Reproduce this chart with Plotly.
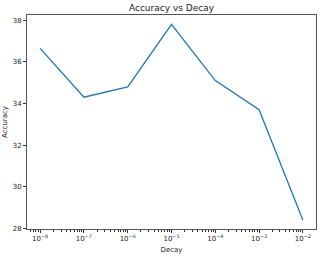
import plotly.graph_objects as go

decay = [1e-8, 1e-7, 1e-6, 1e-5, 1e-4, 1e-3, 1e-2]
accuracy = [36.65, 34.3, 34.8, 37.8, 35.1, 33.7, 28.4]
x_tick_vals = [1e-8, 1e-7, 1e-6, 1e-5, 1e-4, 1e-3, 1e-2]
x_tick_text = ["10<sup>−8</sup>", "10<sup>−7</sup>", "10<sup>−6</sup>", "10<sup>−5</sup>",
               "10<sup>−4</sup>", "10<sup>−3</sup>", "10<sup>−2</sup>"]
y_tick_vals = [28, 30, 32, 34, 36, 38]

minor_vals = [m * 10.0 ** e for e in range(-9, -1) for m in range(2, 10)]

fig = go.Figure()
fig.add_trace(go.Scatter(x=decay, y=accuracy, mode="lines",
                         line=dict(color="#1f77b4", width=1.3)))

font = dict(family="DejaVu Sans", size=7, color="#222")
fig.update_layout(
    width=320, height=257,
    margin=dict(l=27, r=4, t=15, b=28),
    paper_bgcolor="white", plot_bgcolor="white",
    showlegend=False,
    font=font,
    title=dict(text="Accuracy vs Decay", x=(27 + 316) / 2 / 320, xanchor="center",
               y=1 - 8 / 257, yanchor="middle", font=dict(family="DejaVu Sans", size=9, color="#222")),
)
fig.update_xaxes(
    type="log", range=[-8.3, -1.7],
    tickvals=x_tick_vals, ticktext=x_tick_text,
    ticks="outside", ticklen=3, tickwidth=0.8, tickcolor="#333",
    minor=dict(tickvals=minor_vals, ticks="outside", ticklen=2, tickwidth=0.6, tickcolor="#333"),
    showgrid=False, zeroline=False,
    showline=True, linecolor="#555", linewidth=1, mirror=True,
    title=dict(text="Decay", standoff=4, font=dict(family="DejaVu Sans", size=7, color="#222")),
    tickfont=dict(family="DejaVu Sans", size=7, color="#222"),
)
fig.update_yaxes(
    range=[27.97, 38.25],
    tickvals=y_tick_vals,
    ticks="outside", ticklen=3, tickwidth=0.8, tickcolor="#333",
    showgrid=False, zeroline=False,
    showline=True, linecolor="#555", linewidth=1, mirror=True,
    title=dict(text="Accuracy", standoff=4, font=dict(family="DejaVu Sans", size=7, color="#222")),
    tickfont=dict(family="DejaVu Sans", size=7, color="#222"),
)

fig.write_html("out.html")
